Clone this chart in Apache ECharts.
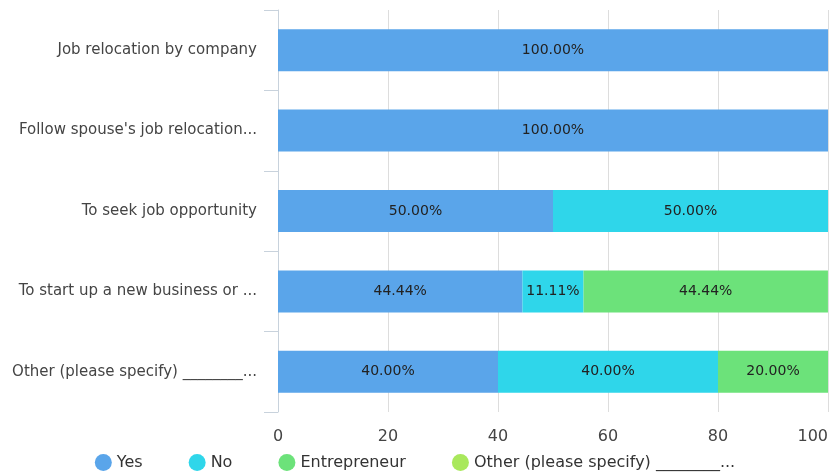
<!DOCTYPE html>
<html><head><meta charset="utf-8">
<script src="https://cdn.jsdelivr.net/npm/echarts@6/dist/echarts.min.js"></script>
<style>html,body{margin:0;padding:0;background:#fff}#c{width:830px;height:476px}</style>
</head><body><div id="c"></div>
<script>
const categories = ["Job relocation by company", "Follow spouse's job relocation...", "To seek job opportunity", "To start up a new business or ...", "Other (please specify) ________..."];
const seriesNames = ["Yes", "No", "Entrepreneur", "Other (please specify) ________..."];
const yesValues = [100, 100, 50, 44.44, 40];
const noValues = [0, 0, 50, 11.11, 40];
const entrepreneurValues = [0, 0, 0, 44.44, 20];
const otherValues = [0, 0, 0, 0, 0];
const colors = ["#5aa5ea", "#2fd6ea", "#6ce27a", "#a9e85c"];
const xTicks = [0, 20, 40, 60, 80, 100];

const chart = echarts.init(document.getElementById('c'));
const font = "DejaVu Sans";
const mk = (name, data, color) => ({
  name, type: 'bar', stack: 'total', data, barWidth: 42,
  itemStyle: { color },
  label: { show: true, position: 'inside', color: '#222', fontFamily: font, fontSize: 14,
    formatter: p => p.value > 0 ? p.value.toFixed(2) + '%' : '' }
});
chart.setOption({
  animation: false,
  textStyle: { fontFamily: font },
  grid: { left: 278, right: 2, top: 10, bottom: 64, containLabel: false, outerBoundsMode: 'none' },
  legend: {
    bottom: 0, left: 'center', icon: 'circle', itemWidth: 17, itemHeight: 17, itemGap: 46,
    textStyle: { fontFamily: font, fontSize: 16, color: '#333' },
    data: seriesNames
  },
  xAxis: {
    type: 'value', min: xTicks[0], max: xTicks[xTicks.length - 1], interval: 20,
    axisLine: { show: false }, axisTick: { show: false },
    splitLine: { show: true, lineStyle: { color: '#ddd', width: 1 } },
    axisLabel: { color: '#444', fontSize: 16, fontFamily: font, margin: 17, alignMaxLabel: 'right' }
  },
  yAxis: {
    type: 'category', data: categories, inverse: true,
    axisLine: { show: true, lineStyle: { color: '#c8d2dc' } },
    axisTick: { show: true, length: 14, lineStyle: { color: '#c8d2dc' } },
    axisLabel: { color: '#444', fontSize: 15, fontFamily: font, margin: 21 }
  },
  series: [
    mk(seriesNames[0], yesValues, colors[0]),
    mk(seriesNames[1], noValues, colors[1]),
    mk(seriesNames[2], entrepreneurValues, colors[2]),
    mk(seriesNames[3], otherValues, colors[3])
  ]
});
</script></body></html>
